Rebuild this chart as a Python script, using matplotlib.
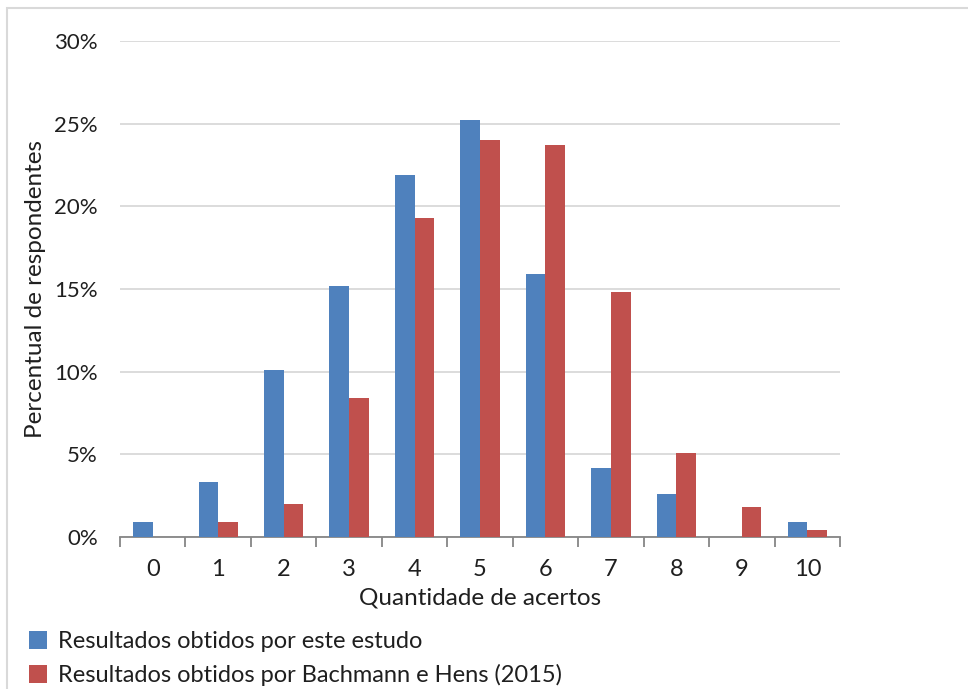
import matplotlib.pyplot as plt
import numpy as np
from matplotlib.patches import Rectangle

plt.rcParams['font.family'] = ['Lato', 'DejaVu Sans']

acertos = ['0', '1', '2', '3', '4', '5', '6', '7', '8', '9', '10']
este_estudo = [0.9, 3.3, 10.1, 15.2, 21.9, 25.2, 15.9, 4.2, 2.6, 0.0, 0.9]
bachmann_hens = [0.0, 0.9, 2.0, 8.4, 19.3, 24.0, 23.7, 14.8, 5.1, 1.8, 0.4]
yticks = [0, 5, 10, 15, 20, 25, 30]

azul = '#4F81BD'
vermelho = '#C0504D'
texto = '#1F1F1F'

fig = plt.figure(figsize=(9.68, 6.89), dpi=100)
ax = fig.add_axes([120 / 968, 1 - 537 / 689, 720 / 968, 496 / 689])

# moldura do grafico
fig.patches.append(Rectangle((7 / 968, -0.05), 1.1, 1 - 8 / 689 + 0.05,
                             transform=fig.transFigure, fill=False,
                             edgecolor='#D9D9D9', linewidth=1.5))

x = np.arange(len(acertos))
w = 0.3
ax.bar(x - w / 2, este_estudo, w, color=azul, zorder=3,
       label='Resultados obtidos por este estudo')
ax.bar(x + w / 2, bachmann_hens, w, color=vermelho, zorder=3,
       label='Resultados obtidos por Bachmann e Hens (2015)')

ax.set_xlim(-0.5, len(acertos) - 0.5)
ax.set_ylim(0, 30)
ax.set_yticks(yticks)
ax.set_yticklabels([f'{v}%' for v in yticks], fontsize=16, color=texto)
ax.yaxis.grid(True, color='#D9D9D9', linewidth=1.3, zorder=0)
ax.tick_params(axis='y', length=0, pad=16)

ax.set_xticks(x)
ax.set_xticklabels(acertos, fontsize=17, color=texto)
ax.set_xticks(np.arange(len(acertos) + 1) - 0.5, minor=True)
ax.tick_params(axis='x', which='major', length=0, pad=16)
ax.tick_params(axis='x', which='minor', length=7, color='#868686', width=1.3)

for s in ['top', 'right', 'left']:
    ax.spines[s].set_visible(False)
ax.spines['bottom'].set_color('#868686')
ax.spines['bottom'].set_linewidth(1.3)

ax.set_xlabel('Quantidade de acertos', fontsize=17.5, color=texto, labelpad=5)
ax.set_ylabel('Percentual de respondentes', fontsize=17.5, color=texto, labelpad=6)

fig.legend(loc='upper left', bbox_to_anchor=(8 / 968, 1 - 610 / 689),
           frameon=False, fontsize=17, handlelength=0.75, handleheight=0.75,
           handletextpad=0.45, labelspacing=0.5, labelcolor=texto)

fig.savefig('out.png', dpi=100)
